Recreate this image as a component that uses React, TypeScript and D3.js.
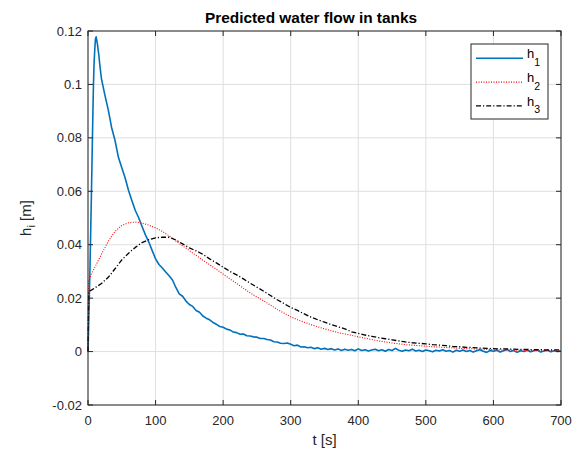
import React from "react";
import * as d3 from "d3";

const W = 582;
const H = 452;

const titleText = "Predicted water flow in tanks";
const xTicks = [0, 100, 200, 300, 400, 500, 600, 700];
const yTicks = [-0.02, 0, 0.02, 0.04, 0.06, 0.08, 0.1, 0.12];
const yTickLabels = ["-0.02", "0", "0.02", "0.04", "0.06", "0.08", "0.1", "0.12"];

// h1: early samples (t, value) then 5 s samples from t = 20 s
const h1EarlyT = [0, 1, 2, 3, 4, 5, 6, 7, 8, 9, 10, 11, 12, 13, 14, 15, 16, 17, 18, 19];
const h1EarlyV = [0, 0.010, 0.021, 0.032, 0.045, 0.058, 0.072, 0.086, 0.099, 0.108, 0.113, 0.117, 0.1178, 0.1165, 0.115, 0.1128, 0.1112, 0.1085, 0.1062, 0.104];
const h1TailStart = 20;
const h1TailStep = 5;
const h1Tail = [
  0.1020, 0.0960, 0.0905, 0.0838, 0.0790, 0.0727, 0.0688, 0.0650, 0.0603, 0.0565,
  0.0528, 0.0501, 0.0468, 0.0437, 0.0410, 0.0378, 0.0347, 0.0326, 0.0313, 0.0298,
  0.0284, 0.0268, 0.0240, 0.0216, 0.0207, 0.0189, 0.0176, 0.0169, 0.0154, 0.0147,
  0.0133, 0.0125, 0.0119, 0.0109, 0.0102, 0.0094, 0.0091, 0.0084, 0.0081, 0.0073,
  0.0071, 0.0065, 0.0066, 0.0059, 0.0058, 0.0055, 0.0054, 0.0049, 0.0049, 0.0045,
  0.0043, 0.0037, 0.0036, 0.0031, 0.0030, 0.0032, 0.0027, 0.0022, 0.0024, 0.0017,
  0.0018, 0.0014, 0.0016, 0.0011, 0.0014, 0.0009, 0.0012, 0.0008, 0.0011, 0.0006,
  0.0010, 0.0004, 0.0009, 0.0005, 0.0008, 0.0003, 0.0010, 0.0004, 0.0007, 0.0002,
  0.0006, 0.0009, 0.0003, 0.0007, 0.0001, 0.0008, 0.0004, 0.0012, 0.0005, 0.0001,
  0.0006, 0.0003, 0.0009, 0.0002, 0.0005, 0.0000, 0.0006, 0.0003, -0.0001, 0.0005,
  0.0002, 0.0007, 0.0001, 0.0004, -0.0002, 0.0005, 0.0001, 0.0006, 0.0000, 0.0004,
  -0.0002, 0.0003, 0.0007, 0.0001, -0.0003, 0.0004, 0.0001, 0.0005, -0.0002, 0.0003,
  0.0008, 0.0000, 0.0004, -0.0003, 0.0003, 0.0000, 0.0005, -0.0001, 0.0003, 0.0006,
  -0.0002, 0.0002, 0.0005, -0.0001, 0.0003, 0.0000, 0.0002,
];

// h2, h3: early samples then 10 s samples from t = 10 s
const h2EarlyT = [0, 1, 5];
const h2EarlyV = [0, 0.0265, 0.029];
const h3EarlyT = [0, 1, 5];
const h3EarlyV = [0, 0.0225, 0.023];
const tailStart = 10;
const tailStep = 10;
const h2Tail = [
  0.0315, 0.0365, 0.0413, 0.0450, 0.0472, 0.0482, 0.0485, 0.0481, 0.0473, 0.0463,
  0.0450, 0.0433, 0.0414, 0.0396, 0.0378, 0.0360, 0.0342, 0.0325, 0.0308, 0.0290,
  0.0272, 0.0255, 0.0237, 0.0220, 0.0204, 0.0190, 0.0174, 0.0158, 0.0144, 0.0130,
  0.0119, 0.0110, 0.0101, 0.0093, 0.0085, 0.0078, 0.0071, 0.0066, 0.0061, 0.0055,
  0.0050, 0.0045, 0.0040, 0.0036, 0.0032, 0.0029, 0.0026, 0.0024, 0.0022, 0.0020,
  0.0018, 0.0017, 0.0015, 0.0014, 0.0012, 0.0011, 0.0010, 0.0009, 0.0008, 0.0007,
  0.0006, 0.0006, 0.0005, 0.0005, 0.0004, 0.0004, 0.0003, 0.0004, 0.0003, 0.0003,
];
const h3Tail = [
  0.0238, 0.0255, 0.0278, 0.0310, 0.0343, 0.0368, 0.0390, 0.0408, 0.0419, 0.0426,
  0.0428, 0.0428, 0.0418, 0.0403, 0.0388, 0.0377, 0.0364, 0.0347, 0.0332, 0.0316,
  0.0300, 0.0287, 0.0272, 0.0256, 0.0241, 0.0226, 0.0210, 0.0194, 0.0180, 0.0165,
  0.0154, 0.0141, 0.0129, 0.0119, 0.0110, 0.0101, 0.0093, 0.0085, 0.0074, 0.0068,
  0.0062, 0.0057, 0.0052, 0.0048, 0.0044, 0.0040, 0.0036, 0.0033, 0.0031, 0.0029,
  0.0026, 0.0024, 0.0022, 0.0019, 0.0018, 0.0016, 0.0015, 0.0013, 0.0012, 0.0011,
  0.0010, 0.0010, 0.0009, 0.0008, 0.0008, 0.0007, 0.0007, 0.0006, 0.0006, 0.0006,
];

type Pt = [number, number];
function build(et: number[], ev: number[], start: number, step: number, tail: number[]): Pt[] {
  const pts: Pt[] = et.map((t, i) => [t, ev[i]]);
  tail.forEach((v, i) => pts.push([start + i * step, v]));
  return pts;
}

const series = [
  { name: "1", data: build(h1EarlyT, h1EarlyV, h1TailStart, h1TailStep, h1Tail), color: "#0072BD", dash: "none", width: 1.6 },
  { name: "2", data: build(h2EarlyT, h2EarlyV, tailStart, tailStep, h2Tail), color: "#FF0000", dash: "1,1.5", width: 1.1 },
  { name: "3", data: build(h3EarlyT, h3EarlyV, tailStart, tailStep, h3Tail), color: "#000000", dash: "5,2,1.2,2", width: 1.3 },
];

const M = { left: 88, right: 561, top: 31, bottom: 405 };
const FONT = "'Liberation Sans', Arial, Helvetica, sans-serif";
const AX = "#262626";

export default function App() {
  const x = d3.scaleLinear().domain([0, 700]).range([M.left, M.right]);
  const y = d3.scaleLinear().domain([-0.02, 0.12]).range([M.bottom, M.top]);
  const line = d3.line<Pt>().x((d) => x(d[0])).y((d) => y(d[1]));
  const legX = 471, legY = 44, legW = 77, legH = 75;
  return (
    <svg width={W} height={H} style={{ position: "fixed", left: 0, top: 0, background: "#fff" }} fontFamily={FONT}>
      <rect x={0} y={0} width={W} height={H} fill="#fff" />
      {/* grid */}
      {xTicks.map((t) => (
        <line key={"gx" + t} x1={x(t)} x2={x(t)} y1={M.top} y2={M.bottom} stroke="#dfdfdf" strokeWidth={1} />
      ))}
      {yTicks.map((t) => (
        <line key={"gy" + t} x1={M.left} x2={M.right} y1={y(t)} y2={y(t)} stroke="#dfdfdf" strokeWidth={1} />
      ))}
      {/* series */}
      <g>
        {series.map((s) => (
          <path key={s.name} d={line(s.data) || ""} fill="none" stroke={s.color} strokeWidth={s.width} strokeDasharray={s.dash} strokeLinejoin="round" />
        ))}
      </g>
      {/* axes box */}
      <rect x={M.left} y={M.top} width={M.right - M.left} height={M.bottom - M.top} fill="none" stroke={AX} strokeWidth={1} />
      {xTicks.map((t) => (
        <g key={"tx" + t}>
          <line x1={x(t)} x2={x(t)} y1={M.bottom} y2={M.bottom - 5} stroke={AX} />
          <line x1={x(t)} x2={x(t)} y1={M.top} y2={M.top + 5} stroke={AX} />
          <text x={x(t)} y={M.bottom + 20} textAnchor="middle" fontSize={13} fill={AX}>{t}</text>
        </g>
      ))}
      {yTicks.map((t, i) => (
        <g key={"ty" + t}>
          <line x1={M.left} x2={M.left + 5} y1={y(t)} y2={y(t)} stroke={AX} />
          <line x1={M.right} x2={M.right - 5} y1={y(t)} y2={y(t)} stroke={AX} />
          <text x={M.left - 6} y={y(t)} dy="0.35em" textAnchor="end" fontSize={13} fill={AX}>{yTickLabels[i]}</text>
        </g>
      ))}
      {/* title */}
      <text x={311} y={23} textAnchor="middle" fontSize={15.4} fontWeight="bold" fill="#000">{titleText}</text>
      {/* x label */}
      <text x={(M.left + M.right) / 2} y={445} textAnchor="middle" fontSize={15} fill={AX}>t [s]</text>
      {/* y label */}
      <text transform={`translate(31,${(M.top + M.bottom) / 2}) rotate(-90)`} textAnchor="middle" fontSize={15} fill={AX}>
        h<tspan fontSize={11} dy={4}>i</tspan><tspan dy={-4}> [m]</tspan>
      </text>
      {/* legend */}
      <rect x={legX} y={legY} width={legW} height={legH} fill="#fff" stroke={AX} strokeWidth={1} />
      {series.map((s, i) => {
        const ly = 58.3 + i * 23.8;
        return (
          <g key={"leg" + s.name}>
            <line x1={476} x2={523} y1={ly} y2={ly} stroke={s.color} strokeWidth={s.width} strokeDasharray={s.dash} />
            <text x={527} y={ly} fontSize={13} fill="#000">
              h<tspan fontSize={10.5} dy={7.5}>{s.name}</tspan>
            </text>
          </g>
        );
      })}
    </svg>
  );
}
